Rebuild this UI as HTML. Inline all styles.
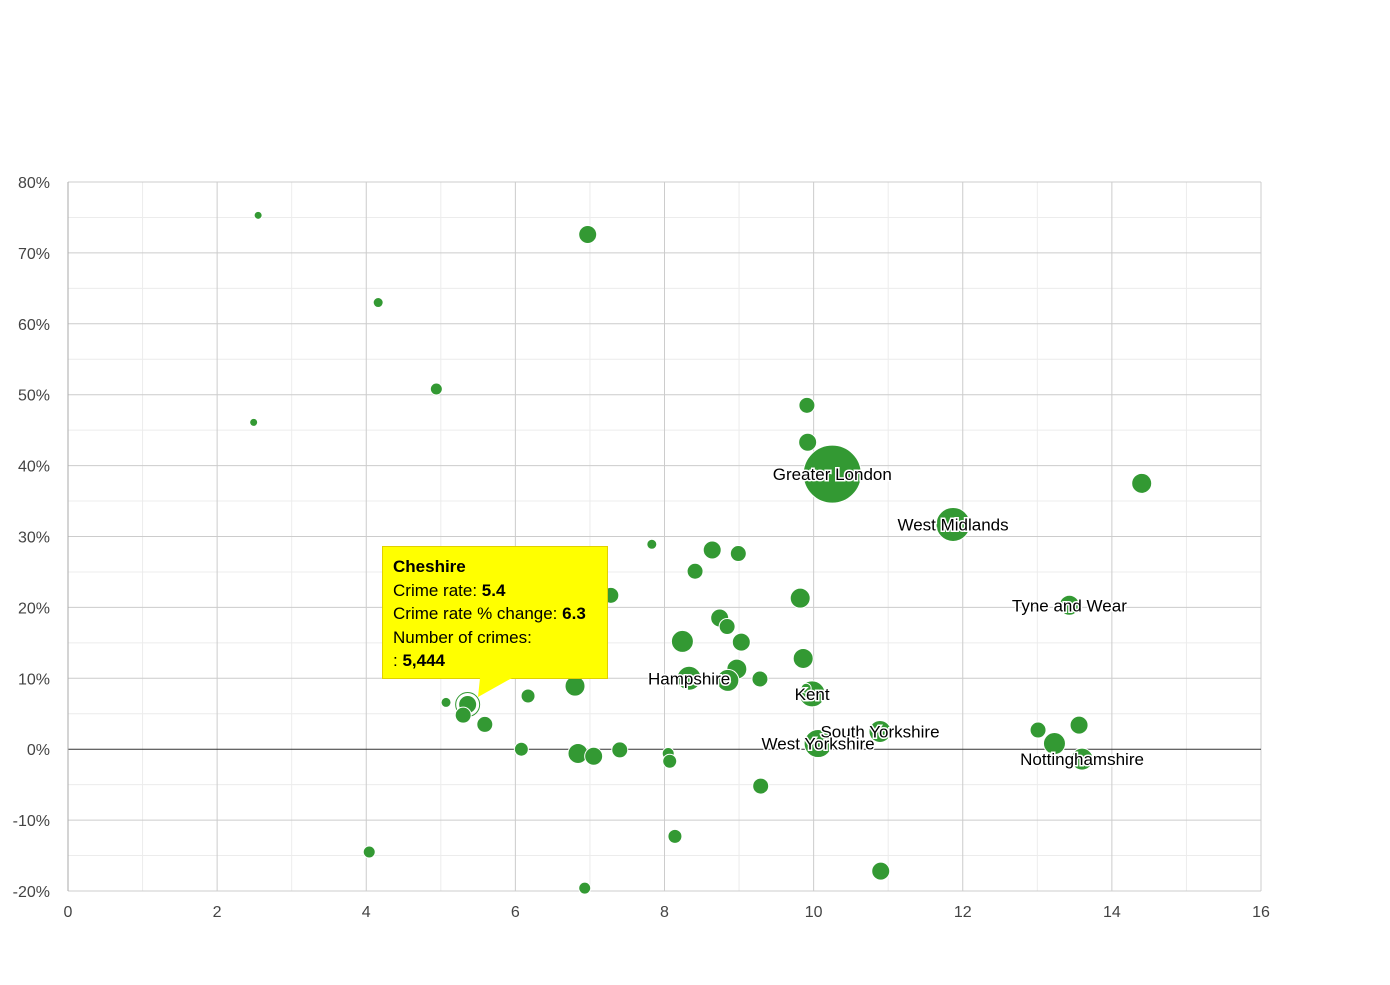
<!DOCTYPE html>
<html><head><meta charset="utf-8"><style>
body{margin:0;background:#fff;font-family:"Liberation Sans",Arial,sans-serif}
svg text{font-family:"Liberation Sans",Arial,sans-serif}
</style></head><body>
<svg id="chart" width="1390" height="980" xmlns="http://www.w3.org/2000/svg"></svg>
<script>
const xTicks=[0,2,4,6,8,10,12,14,16];
const yTicks=[-20,-10,0,10,20,30,40,50,60,70,80];
const names=["","","","","","","","Greater London","West Midlands","","","","","","","","Tyne and Wear","","","","","","","Hampshire","","","","Kent","","","Cheshire","","","","","","","","","","","","","","South Yorkshire","West Yorkshire","","","","Nottinghamshire",""];
const crimeRate=[2.55,6.97,4.16,4.94,2.49,9.91,9.92,10.25,11.87,14.40,7.83,8.64,8.99,8.41,7.28,9.82,13.43,8.74,8.84,8.24,9.03,9.86,8.97,8.33,8.85,9.28,6.80,9.98,6.17,5.07,5.36,5.30,5.59,6.08,6.84,7.05,7.40,8.05,8.07,9.29,8.14,4.04,6.93,10.90,10.89,10.06,13.01,13.23,13.56,13.60,9.90];
const pctChange=[75.3,72.6,63.0,50.8,46.1,48.5,43.3,38.8,31.7,37.5,28.9,28.1,27.6,25.1,21.7,21.3,20.3,18.5,17.3,15.2,15.1,12.8,11.3,10.0,9.7,9.9,8.9,7.8,7.5,6.6,6.3,4.8,3.5,0,-0.6,-1.0,-0.1,-0.6,-1.7,-5.2,-12.3,-14.5,-19.6,-17.2,2.5,0.8,2.7,0.8,3.4,-1.4,8.6];
const bubbleSize=[4,9,5,6,4,8,9,29,17,10,5,9,8,8,8,10,10,9,8,11,9,10,10,12,11,8,10,13,7,5,9,8,8,7,10,9,8,6,7,8,7,6,6,9,11,14,8,11,9,11,5];
const NS="http://www.w3.org/2000/svg";
const svg=document.getElementById('chart');
const L=68,R=1261,T=182,B=891;
const sx=v=>L+(v-0)/(16-0)*(R-L);
const sy=v=>B-(v+20)/100*(B-T);
function mk(t,a,p){const e=document.createElementNS(NS,t);for(const k in a)e.setAttribute(k,a[k]);(p||svg).appendChild(e);return e;}
for(let v=1;v<16;v+=2){const l=mk('line',{x1:sx(v),x2:sx(v),y1:T,y2:B,stroke:'#ececec'});}
for(let v=-15;v<80;v+=10){const l=mk('line',{x1:L,x2:R,y1:sy(v),y2:sy(v),stroke:'#ececec'});}
xTicks.forEach(v=>{const l=mk('line',{x1:sx(v),x2:sx(v),y1:T,y2:B,stroke:'#cccccc'});
const t=mk('text',{x:sx(v),y:B+26,'text-anchor':'middle','font-size':16,fill:'#444'});t.textContent=v;});
yTicks.forEach(v=>{const l=mk('line',{x1:L,x2:R,y1:sy(v),y2:sy(v),stroke:v===0?'#333':'#cccccc'});
const t=mk('text',{x:L-18,y:sy(v)+6,'text-anchor':'end','font-size':16,fill:'#444'});t.textContent=v+'%';});
const ax=mk('line',{x1:L,x2:L,y1:T,y2:B,stroke:'#aaa'});
const g=mk('g',{});
crimeRate.forEach((x,i)=>{const c=mk('circle',{cx:sx(x),cy:sy(pctChange[i]),r:bubbleSize[i],fill:'#339933',stroke:'#fff','stroke-width':1},g);


if(names[i]==='Cheshire'){const h=mk('circle',{cx:sx(x),cy:sy(pctChange[i]),r:bubbleSize[i]+3,fill:'none',stroke:'#339933','stroke-width':1},g);

}});
crimeRate.forEach((x,i)=>{if(!names[i]||names[i]==='Cheshire')return;
const t=mk('text',{x:sx(x),y:sy(pctChange[i])+6,'text-anchor':'middle','font-size':17,fill:'#000',stroke:'#fff','stroke-width':3,'paint-order':'stroke'});t.textContent=names[i];

});
</script>
<div style="position:absolute;left:382px;top:546px;width:226px;height:133px;background:#ffff00;border:1px solid #e0d000;box-sizing:border-box;padding:8px 10px;font-size:17px;line-height:23.5px;color:#000">
<div><b>Cheshire</b></div>
<div>Crime rate: <b>5.4</b></div>
<div>Crime rate % change: <b>6.3</b></div>
<div>Number of crimes:</div>
<div>: <b>5,444</b></div>
</div>
<svg style="position:absolute;left:470px;top:677px" width="50" height="22"><polygon points="10,1 42,1 8,20" fill="#ffff00"/></svg>
</body></html>
